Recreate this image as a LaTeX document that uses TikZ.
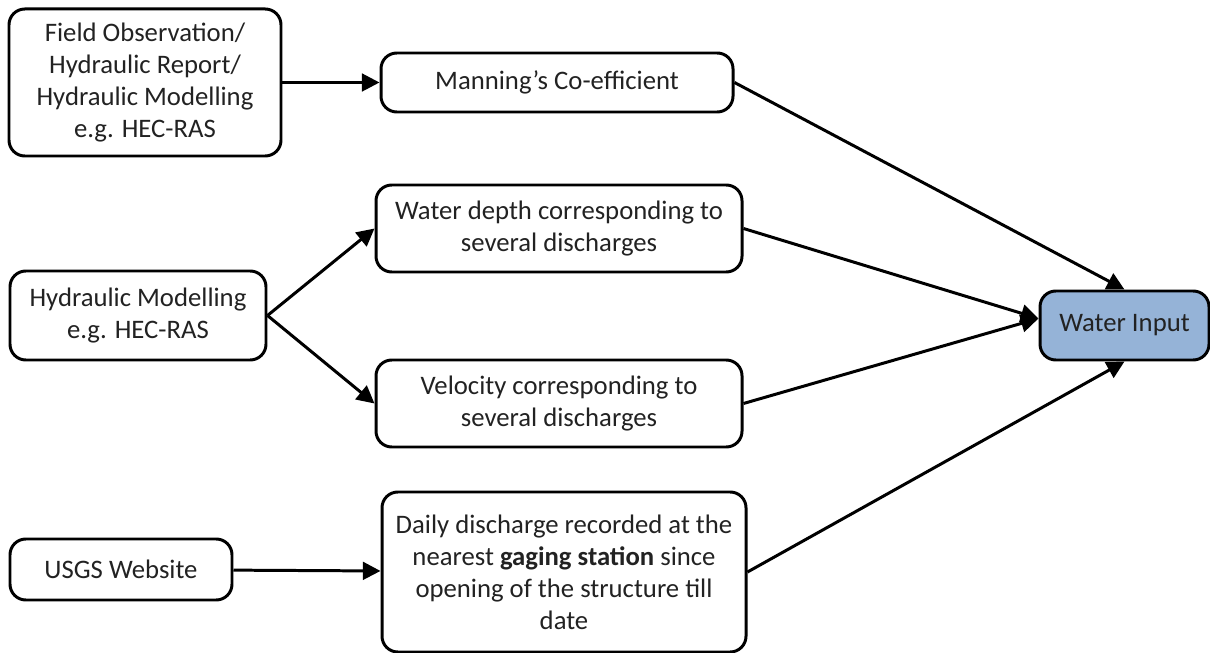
\documentclass[tikz,border=0pt]{standalone}
\usepackage{fontspec}
\setmainfont{Carlito}
\usepackage{xcolor}
\usetikzlibrary{
  arrows.meta,
  positioning,
}
\definecolor{inblue}{HTML}{95B3D7}
\definecolor{txtgray}{HTML}{222222}

\begin{document}
\begin{tikzpicture}[
    box/.style={draw, line width=1.7pt, rounded corners=9pt, align=center,
      text=txtgray, font=\fontsize{15.2}{18.2}\selectfont, inner sep=2pt},
    link/.style={line width=1.7pt, -{Triangle[length=10pt, width=10pt]}},
  ]
  \useasboundingbox (0,0) rectangle (24.2,-13.06);

  % Sources
  \node[box, minimum width=5.44cm, minimum height=2.94cm] (field) at (2.9,-1.65)
    {Field Observation/\\Hydraulic Report/\\Hydraulic Modelling\\e.g. HEC-RAS};
  \node[box, minimum width=5.12cm, minimum height=1.78cm] (hydmod) at (2.76,-6.31)
    {Hydraulic Modelling\\e.g. HEC-RAS};
  \node[box, minimum width=4.44cm, minimum height=1.22cm] (usgs) at (2.42,-11.39)
    {USGS Website};

  % Parameters
  \node[box, minimum width=7.04cm, minimum height=1.18cm] (manning) at (11.14,-1.65)
    {Manning's Co-efficient};
  \node[box, minimum width=7.32cm, minimum height=1.74cm] (depth) at (11.18,-4.57)
    {Water depth corresponding to\\several discharges};
  \node[box, minimum width=7.32cm, minimum height=1.74cm] (velocity) at (11.18,-8.07)
    {Velocity corresponding to\\several discharges};
  \node[box, minimum width=7.28cm, minimum height=3.2cm] (daily) at (11.28,-11.44)
    {Daily discharge recorded at the\\nearest \textbf{gaging station} since\\opening of the structure till\\date};

  % Target
  \node[box, fill=inblue, minimum width=3.38cm, minimum height=1.38cm] (water) at (22.49,-6.51)
    {Water Input};

  % Arrows
  \draw[link] (field) -- (manning);
  \draw[link] (hydmod.east) -- (depth.west);
  \draw[link] (hydmod.east) -- (velocity.west);
  \draw[link] (usgs) -- (daily);
  \draw[link] (manning.east) -- (water.north);
  \draw[link] (depth.east) -- ([yshift=4pt]water.west);
  \draw[link] (velocity.east) -- ([yshift=4pt]water.west);
  \draw[link] (daily.east) -- (water.south);
\end{tikzpicture}
\end{document}
